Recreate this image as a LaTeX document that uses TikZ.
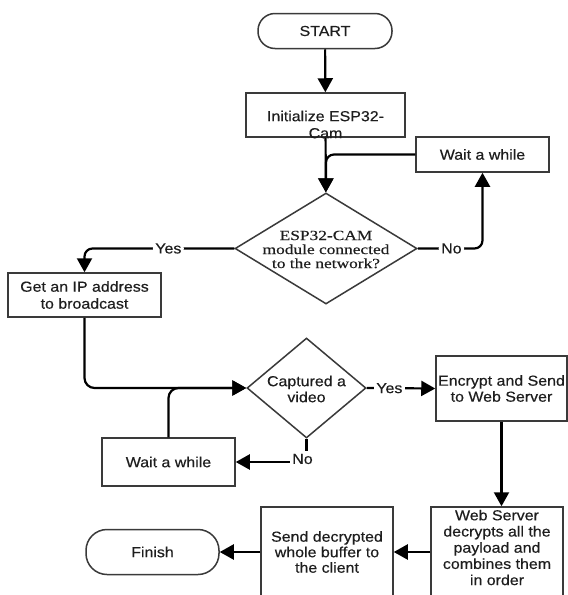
\documentclass[tikz,border=0pt]{standalone}
\usepackage{fontspec}
\setmainfont{Liberation Sans}[FakeStretch=1.1,FakeBold=0.4]
\newfontfamily\dserif{Liberation Serif}[FakeStretch=1.24,FakeBold=0.3]
\usetikzlibrary{shapes.geometric,arrows.meta}
\definecolor{edgec}{HTML}{3A3A3A}
\definecolor{ink}{HTML}{1E1E1E}
\begin{document}
\begin{tikzpicture}[x=1pt,y=-1pt,
  every node/.style={text=ink, font=\fontsize{14.5}{16}\selectfont},
  box/.style={draw=edgec, line width=1.5pt, inner sep=0pt, align=center},
  term/.style={box, rounded corners=17pt},
  dec/.style={draw=edgec, line width=1.5pt, diamond, inner sep=0pt},
  txt/.style={align=center, inner sep=0pt},
  conn/.style={draw=black, line width=2.2pt, -{Triangle[width=15pt,length=14pt]}},
  lbl/.style={fill=white, inner sep=2.5pt},
]
\useasboundingbox (0,0) rectangle (568,595);
\clip (0,0) rectangle (568,595);
\fill[white] (0,0) rectangle (568,595);

% nodes
\node[term, minimum width=134pt, minimum height=35pt] (start) at (325,31) {START};
\node[box, minimum width=159pt, minimum height=44pt] (init) at (325.5,115) {};
\node[txt, font=\fontsize{14.5}{17}\selectfont] (inittxt) at (325.5,124.5) {Initialize ESP32-\\Cam};
\node[box, minimum width=133pt, minimum height=35pt] (wait1) at (482.5,154.5) {Wait a while};
\node[dec, minimum width=182pt, minimum height=111pt] (d1) at (326,248.5) {};
\node[txt, font=\dserif\fontsize{14}{14}\selectfont] (d1txt) at (326,249.5) {ESP32-CAM\\module connected\\to the network?};
\node[box, minimum width=153pt, minimum height=44pt, font=\fontsize{14.5}{17}\selectfont] (ip) at (84.5,295) {Get an IP address\\to broadcast};
\node[dec, minimum width=119pt, minimum height=100pt] (d2) at (306.5,388) {};
\node[txt] (d2txt) at (306.5,389) {Captured a\\video};
\node[box, minimum width=131pt, minimum height=65pt] (enc) at (501.5,388.5) {Encrypt and Send\\to Web Server};
\node[box, minimum width=133pt, minimum height=48pt] (wait2) at (168.5,462) {Wait a while};
\node[box, minimum width=132pt, minimum height=90pt] (ws) at (497,552) {};
\node[txt, font=\fontsize{14.5}{16.2}\selectfont] (wstxt) at (497,547.5) {Web Server\\decrypts all the\\payload and\\combines them\\in order};
\node[box, minimum width=132pt, minimum height=90pt, font=\fontsize{14.5}{15.5}\selectfont] (send) at (327,552) {Send decrypted\\whole buffer to\\the client};
\node[term, minimum width=133pt, minimum height=45pt, rounded corners=21pt] (finish) at (152.5,552) {Finish};

% connectors
\draw[conn] (start) -- (init);
\draw[conn] (init) -- (d1);
\draw[conn, rounded corners=8pt] (wait1.west) -| (d1.north);
\draw[conn, rounded corners=8pt] (d1.east) -| node[lbl, pos=0.26] {No} (wait1.south);
\draw[conn, rounded corners=8pt] (d1.west) -| node[lbl, pos=0.22] {Yes} (ip.north);
\draw[conn, rounded corners=10pt] (ip.south) |- (d2.west);
\draw[conn, rounded corners=10pt] (wait2.north) |- (d2.west);
\draw[conn] (d2.east) -- node[lbl, pos=0.33] {Yes} (enc.west);
\draw[conn] (d2.south) |- node[lbl, pos=0.5, xshift=-4pt, yshift=3pt] {No} (wait2.east);
\draw[conn] (enc.south) -- (enc.south |- ws.north);
\draw[conn] (ws.west) -- (send.east);
\draw[conn] (send.west) -- (finish.east);
\end{tikzpicture}
\end{document}
